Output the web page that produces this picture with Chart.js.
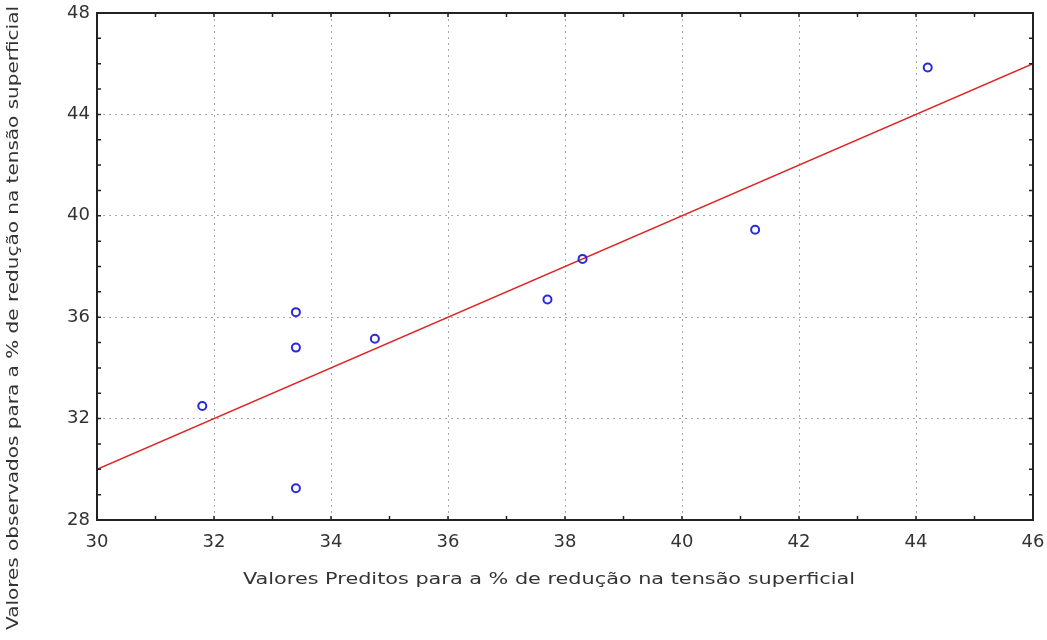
<!DOCTYPE html>
<html>
<head>
<meta charset="utf-8">
<script src="https://cdn.jsdelivr.net/npm/chart.js@4.4.0/dist/chart.umd.min.js"></script>
<style>
  html, body { margin: 0; padding: 0; background: #fff; }
  #grafico { width: 1047px; height: 640px; }
</style>
</head>
<body>
<div id="grafico"><canvas id="dispersao"></canvas></div>
<script>
// dados
const preditos = [31.8, 33.4, 33.4, 33.4, 34.75, 37.7, 38.3, 41.25, 44.2];
const observados = [32.5, 29.25, 34.8, 36.2, 35.15, 36.7, 38.3, 39.45, 45.85];
const linhaX = [30, 46];
const linhaY = [30, 46];
const ticksX = [30, 32, 34, 36, 38, 40, 42, 44, 46];
const ticksY = [28, 32, 36, 40, 44, 48];

const tituloX = 'Valores Preditos para a % de redução na tensão superficial';
const tituloY = 'Valores observados para a % de redução na tensão superficial';

const fonteEixo = 'DejaVu Sans, Verdana, sans-serif';
const fonteTitulo = 'DejaVu Sans, Verdana, sans-serif';

// escreve o texto esticado na horizontal ate a largura pedida
function textoLargo(ctx, texto, x, y, largura) {
  const w = ctx.measureText(texto).width;
  ctx.save();
  ctx.translate(x, y);
  ctx.scale(largura / w, 1);
  ctx.fillText(texto, 0, 0);
  ctx.restore();
}

// moldura, marcas internas e titulos
const moldura = {
  id: 'moldura',
  afterDraw(chart) {
    const { ctx, chartArea: a, scales } = chart;
    ctx.save();
    ctx.strokeStyle = '#222';
    ctx.lineWidth = 2;
    ctx.strokeRect(a.left, a.top, a.right - a.left, a.bottom - a.top);

    // marcas menores para dentro
    ctx.lineWidth = 1.5;
    ctx.beginPath();
    for (let v = 31; v < 46; v++) {
      const px = scales.x.getPixelForValue(v);
      ctx.moveTo(px, a.bottom); ctx.lineTo(px, a.bottom - 4);
      ctx.moveTo(px, a.top); ctx.lineTo(px, a.top + 4);
    }
    for (let v = 29; v < 48; v++) {
      const py = scales.y.getPixelForValue(v);
      ctx.moveTo(a.left, py); ctx.lineTo(a.left + 4, py);
      ctx.moveTo(a.right, py); ctx.lineTo(a.right - 4, py);
    }
    ctx.stroke();

    // titulos dos eixos
    ctx.fillStyle = '#333';
    ctx.font = '16px ' + fonteTitulo;
    ctx.textAlign = 'center';
    ctx.textBaseline = 'middle';
    textoLargo(ctx, tituloX, 549, 580, 612);
    ctx.translate(14, 318);
    ctx.rotate(-Math.PI / 2);
    textoLargo(ctx, tituloY, 0, 0, 624);
    ctx.restore();
  }
};

const ctx = document.getElementById('dispersao').getContext('2d');
const chart = new Chart(ctx, {
  type: 'scatter',
  data: {
    datasets: [{
      label: 'Observados',
      data: preditos.map((x, i) => ({ x: x, y: observados[i] })),
      showLine: false,
      pointRadius: 4,
      pointBorderWidth: 2,
      pointBorderColor: '#2a2ad8',
      pointBackgroundColor: 'rgba(0,0,0,0)',
      order: 1
    }, {
      label: 'Ajuste',
      data: linhaX.map((x, i) => ({ x: x, y: linhaY[i] })),
      showLine: true,
      borderColor: '#e02424',
      borderWidth: 1.5,
      pointRadius: 0,
      order: 2
    }]
  },
  options: {
    responsive: true,
    maintainAspectRatio: false,
    animation: false,
    layout: { padding: { left: 0, right: 14, top: 13, bottom: 0 } },
    plugins: { legend: { display: false }, tooltip: { enabled: false } },
    scales: {
      x: {
        type: 'linear',
        min: 30, max: 46,
        afterFit: (s) => { s.height = 120; s.paddingLeft = 0; s.paddingRight = 0; },
        afterBuildTicks: (s) => { s.ticks = ticksX.map(v => ({ value: v })); },
        border: { display: false, dash: [2, 4] },
        grid: {
          drawTicks: false,
          color: (c) => (c.tick && c.tick.value > 30 && c.tick.value < 46) ? '#a8a8a8' : 'rgba(0,0,0,0)',
          lineWidth: 1
        },
        ticks: {
          padding: 12,
          color: '#333',
          font: { family: fonteEixo, size: 18 }
        }
      },
      y: {
        type: 'linear',
        min: 28, max: 48,
        afterFit: (s) => { s.width = 97; s.paddingTop = 0; s.paddingBottom = 0; },
        afterBuildTicks: (s) => { s.ticks = ticksY.map(v => ({ value: v })); },
        border: { display: false, dash: [2, 4] },
        grid: {
          drawTicks: false,
          color: (c) => (c.tick && c.tick.value > 28 && c.tick.value < 48) ? '#a8a8a8' : 'rgba(0,0,0,0)',
          lineWidth: 1
        },
        ticks: {
          padding: 7,
          color: '#333',
          font: { family: fonteEixo, size: 18 }
        }
      }
    }
  },
  plugins: [moldura]
});
</script>
</body>
</html>
